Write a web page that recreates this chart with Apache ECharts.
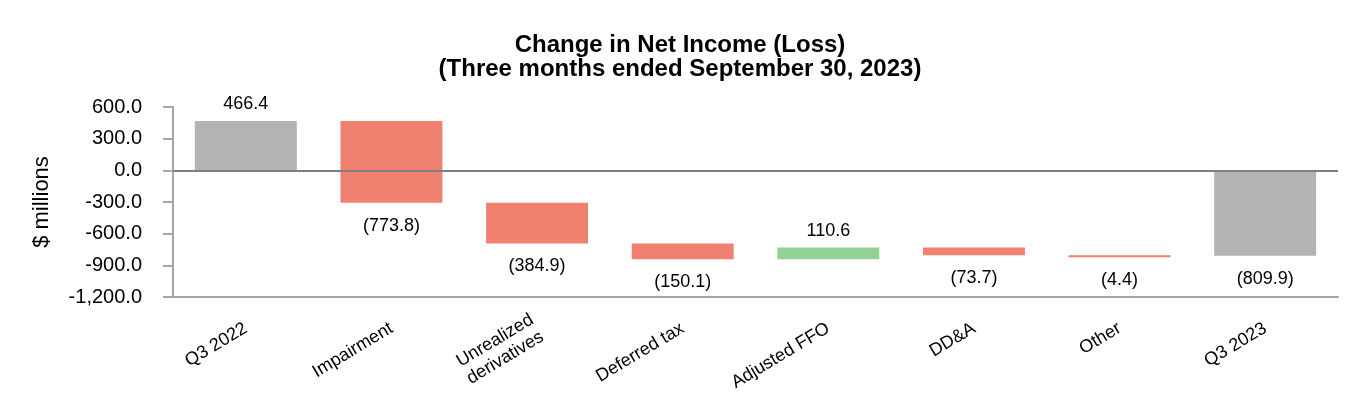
<!DOCTYPE html>
<html>
<head>
<meta charset="utf-8">
<script src="https://cdn.jsdelivr.net/npm/echarts@6/dist/echarts.min.js"></script>
<style>
html,body{margin:0;padding:0;background:#fff;}
#chart{width:1360px;height:420px;}
</style>
</head>
<body>
<div id="chart"></div>
<script>
const categories = ['Q3 2022', 'Impairment', 'Unrealized\nderivatives', 'Deferred tax', 'Adjusted FFO', 'DD&A', 'Other', 'Q3 2023'];
const changes = [466.4, -773.8, -384.9, -150.1, 110.6, -73.7, -4.4, -809.9];
const isTotal = [true, false, false, false, false, false, false, true];
const yTicks = { min: -1200, max: 600, interval: 300 };
const colors = { total: '#b3b3b3', up: '#93d095', down: '#f08070' };

const FONT = 'Liberation Sans, Arial, Helvetica, sans-serif';

// build waterfall segments [index, start, end, value, kind]
const segs = [];
let running = 0;
changes.forEach((v, i) => {
  let start, end, kind;
  if (isTotal[i]) { start = 0; end = v; running = v; kind = 'total'; }
  else { start = running; end = running + v; running = end; kind = v >= 0 ? 'up' : 'down'; }
  segs.push([i, start, end, v, kind]);
});

function fmt(v) {
  const s = Math.abs(v).toFixed(1);
  return v < 0 ? '(' + s + ')' : s;
}

const chart = echarts.init(document.getElementById('chart'), null, { renderer: 'canvas' });
chart.setOption({
  animation: false,
  title: {
    text: 'Change in Net Income (Loss)\n(Three months ended September 30, 2023)',
    left: 'center',
    top: 28,
    textStyle: { fontFamily: FONT, fontSize: 24, fontWeight: 'bold', color: '#000', lineHeight: 24 }
  },
  grid: { left: 173, right: 22, top: 107, bottom: 123, containLabel: false },
  xAxis: {
    type: 'category',
    data: categories,
    axisLine: { onZero: false, lineStyle: { color: '#a6a6a6', width: 2 } },
    axisTick: { alignWithLabel: true, length: 10, lineStyle: { color: '#a6a6a6', width: 2 } },
    axisLabel: { rotate: 31, margin: 30, interval: 0, color: '#000', fontFamily: FONT, fontSize: 18, lineHeight: 20 },
    splitLine: { show: false }
  },
  yAxis: {
    type: 'value',
    min: yTicks.min, max: yTicks.max, interval: yTicks.interval,
    name: '$ millions',
    nameLocation: 'middle',
    nameGap: 120,
    nameRotate: 90,
    nameTextStyle: { fontFamily: FONT, fontSize: 22, color: '#000' },
    axisLine: { show: true, lineStyle: { color: '#a6a6a6', width: 2 } },
    axisTick: { show: true, length: 10, lineStyle: { color: '#a6a6a6', width: 2 } },
    axisLabel: {
      margin: 31, color: '#000', fontFamily: FONT, fontSize: 20,
      formatter: v => v.toLocaleString('en-US', { minimumFractionDigits: 1, maximumFractionDigits: 1 })
    },
    splitLine: { show: false }
  },
  series: [{
    type: 'custom',
    data: segs,
    encode: { x: 0, y: [1, 2] },
    renderItem: function (params, api) {
      const i = api.value(0), s = api.value(1), e = api.value(2), v = api.value(3);
      const kind = segs[params.dataIndex][4];
      const p1 = api.coord([i, s]);
      const p2 = api.coord([i, e]);
      const bw = api.size([1, 0])[0] * 0.7;
      const top = Math.min(p1[1], p2[1]);
      const bot = Math.max(p1[1], p2[1]);
      const h = Math.max(bot - top, 2);
      const positive = v >= 0;
      return {
        type: 'group',
        children: [
          { type: 'rect', shape: { x: p1[0] - bw / 2, y: top, width: bw, height: h }, style: { fill: colors[kind] } },
          { type: 'text', style: {
              x: p1[0], y: positive ? top - 8 : top + h + 14,
              text: fmt(v), fill: '#000', font: '18px ' + FONT,
              textAlign: 'center', textVerticalAlign: positive ? 'bottom' : 'top'
            } }
        ]
      };
    },
    markLine: {
      silent: true, symbol: 'none', label: { show: false },
      lineStyle: { color: '#7f7f7f', width: 2, type: 'solid' },
      data: [{ yAxis: 0 }]
    },
    z: 2
  }]
});
</script>
</body>
</html>
